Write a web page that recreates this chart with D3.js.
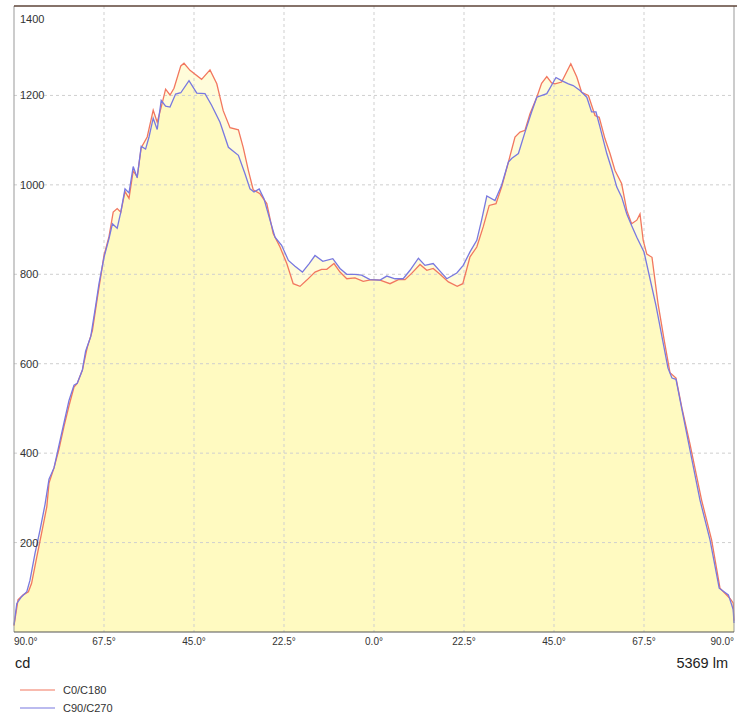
<!DOCTYPE html>
<html><head><meta charset="utf-8">
<script src="https://cdn.jsdelivr.net/npm/d3@7"></script>
<style>body{margin:0;background:#fff}svg{display:block;font-family:"Liberation Sans",Arial,sans-serif}</style>
</head><body><svg id="c" width="743" height="717"></svg>
<script>
// Angles: negative = left half (displayed as 90..0), positive = right half
const anglesC0 = [-90,-89,-87.7,-86.4,-85.6,-84.3,-83.1,-81.8,-81.25,-80,-78.75,-77.5,-76.25,-75,-74.2,-72.9,-71.7,-70.4,-69.2,-68.3,-67.5,-66.25,-65.2,-64.2,-63.3,-62.25,-61.25,-60.2,-59.2,-58.2,-56.7,-55.2,-54.2,-53.2,-52.1,-51,-50,-48.3,-47.5,-46,-43.1,-41,-39.3,-37.7,-36,-33.9,-32.7,-31.4,-30.2,-28.5,-26.8,-25.2,-23.5,-21.8,-20.2,-18.5,-16.8,-14.75,-13.1,-11.8,-10,-8.5,-6.8,-4.75,-2.7,-0.6,1.5,4,6.1,7.75,9.4,11.5,13.2,14.8,16.5,18.6,20.8,22.2,24,25.7,27.3,28.8,30.5,31.9,33.6,35.25,36.5,37.75,39,40.7,41.9,43.2,44.4,45.25,46.9,49.2,50.7,51.9,53.6,55.25,56.3,57.75,59,60.25,61.9,63.2,64.4,65.7,66.5,67.3,68.2,69.5,71,72.5,74,75.5,77,79,81.9,84.4,86.5,89,89.8,90];
const valuesC0 = [14,72,83,90,109,168,221,280,333,367,409,460,506,548,556,586,636,674,745,796,842,884,939,947,939,985,970,1031,1018,1083,1107,1167,1140,1174,1214,1201,1216,1266,1272,1256,1236,1257,1226,1166,1128,1123,1084,1032,989,980,958,891,861,824,779,773,787,805,811,811,824,805,790,792,784,788,787,779,788,788,802,822,809,813,800,783,773,779,839,861,906,954,958,995,1051,1107,1118,1122,1159,1196,1227,1242,1228,1226,1230,1271,1241,1207,1200,1155,1151,1103,1070,1032,1003,943,913,921,935,876,845,838,735,655,580,568,500,420,295,206,98,75,65,25];

const anglesC90 = [-90,-89.3,-88.1,-86.8,-86,-84.75,-83.5,-82.25,-81.25,-80,-78.75,-77.5,-76.25,-75,-74.2,-72.9,-72.1,-70.8,-69.6,-68.75,-67.5,-66.25,-65.4,-64.2,-63.3,-62.25,-61.25,-60.2,-59.2,-58.2,-57.1,-56.25,-55.2,-54.2,-53.2,-52.1,-51,-49.6,-48.3,-46.25,-44.3,-42.25,-40.6,-38.5,-36.4,-33.9,-32.25,-31,-30,-28.7,-27.5,-26,-24.75,-23.1,-21.4,-19.75,-17.9,-16.2,-14.75,-12.8,-10.3,-8.5,-6.8,-4.75,-3.1,-1,1.5,3.2,5.25,7.3,9,11.1,12.75,14.8,16.5,18.2,20.7,22.3,24,25.7,26.9,28.2,30.25,31.9,33.6,34.4,36.1,37.75,39.4,40.7,43.2,45.5,46.9,48.6,49.8,51.5,53.2,54.4,55.5,56.5,58.2,59.4,60.7,61.9,63.2,64.4,65.7,67.5,69,70.5,72,73.5,74.5,75.5,77,79,81.5,84,86.3,88.6,89.8,90];
const valuesC90 = [16,64,79,90,116,176,228,285,342,367,418,468,518,552,556,586,628,661,729,779,838,880,913,903,939,991,982,1041,1016,1086,1080,1107,1149,1124,1189,1176,1174,1203,1206,1233,1205,1204,1178,1140,1084,1066,1025,991,984,991,969,921,883,865,831,818,805,824,842,829,835,813,800,800,798,788,787,796,790,790,809,836,820,824,807,790,803,820,850,876,921,975,965,999,1051,1059,1070,1118,1163,1196,1204,1240,1233,1226,1222,1211,1196,1163,1163,1129,1070,1036,995,973,935,909,883,850,790,730,660,590,568,565,497,407,295,206,98,83,50,20];

const xTicks = [-90,-67.5,-45,-22.5,0,22.5,45,67.5,90];
const yTicks = [200,400,600,800,1000,1200,1400];
const seriesNames = ["C0/C180","C90/C270"];
const seriesColors = ["#f2775f","#7878e0"];
const unitLeft = "cd";
const unitRight = "5369 lm";

const svg = d3.select("#c");
const L=14,R=734,T=6,B=632;
const x = d3.scaleLinear().domain([-90,90]).range([L,R]);
const y = d3.scaleLinear().domain([0,1400]).range([B,T]);

const series = [
  {name:seriesNames[0], color:seriesColors[0], data:anglesC0.map((a,i)=>[a,valuesC0[i]])},
  {name:seriesNames[1], color:seriesColors[1], data:anglesC90.map((a,i)=>[a,valuesC90[i]])}
];

const area = d3.area().x(d=>x(d[0])).y0(y(0)).y1(d=>y(d[1]));
const line = d3.line().x(d=>x(d[0])).y(d=>y(d[1]));

series.forEach(s=>{
  svg.append("path").attr("d",area(s.data)).attr("fill","rgb(255,246,140)").attr("fill-opacity",0.32);
});

// grid
svg.append("g").selectAll("line").data(xTicks.slice(1,-1)).join("line")
  .attr("x1",d=>x(d)).attr("x2",d=>x(d)).attr("y1",T).attr("y2",B)
  .attr("stroke","#cfcfcf").attr("stroke-dasharray","3,3");
svg.append("g").selectAll("line").data(yTicks.slice(0,-1)).join("line")
  .attr("x1",L).attr("x2",R).attr("y1",d=>y(d)).attr("y2",d=>y(d))
  .attr("stroke","#cfcfcf").attr("stroke-dasharray","3,3");

series.forEach(s=>{
  svg.append("path").attr("d",line(s.data)).attr("fill","none").attr("stroke",s.color).attr("stroke-width",1.3);
});

// borders
svg.append("line").attr("x1",L).attr("x2",L).attr("y1",T).attr("y2",B).attr("stroke","#999");
svg.append("line").attr("x1",R).attr("x2",R).attr("y1",T).attr("y2",B).attr("stroke","#999");
svg.append("line").attr("x1",L).attr("x2",R+3).attr("y1",T).attr("y2",T).attr("stroke","#5e4438").attr("stroke-width",1.6);
svg.append("line").attr("x1",L).attr("x2",R).attr("y1",B).attr("y2",B).attr("stroke","#555").attr("stroke-width",1.2);

// y labels
svg.append("g").selectAll("text").data(yTicks).join("text")
  .attr("x",20).attr("y",d=>d===1400?y(d)+17:y(d)+4)
  .attr("font-size",11).attr("fill","#333").text(d=>d);

// x labels
svg.append("g").selectAll("text").data(xTicks).join("text")
  .attr("x",d=>x(d)).attr("y",645)
  .attr("text-anchor",(d,i)=>i===0?"start":(i===xTicks.length-1?"end":"middle"))
  .attr("font-size",10).attr("fill","#333")
  .text(d=>Math.abs(d).toFixed(1)+"\u00b0");

svg.append("text").attr("x",15).attr("y",668).attr("font-size",14.5).attr("fill","#222").text(unitLeft);
svg.append("text").attr("x",728).attr("y",668).attr("text-anchor","end").attr("font-size",14.5).attr("fill","#222").text(unitRight);

// legend
series.forEach((s,i)=>{
  const ly = 690 + i*18;
  svg.append("line").attr("x1",20).attr("x2",55).attr("y1",ly).attr("y2",ly).attr("stroke",s.color).attr("stroke-width",1.2);
  svg.append("text").attr("x",63).attr("y",ly+4).attr("font-size",11).attr("fill","#333").text(s.name);
});
</script></body></html>
